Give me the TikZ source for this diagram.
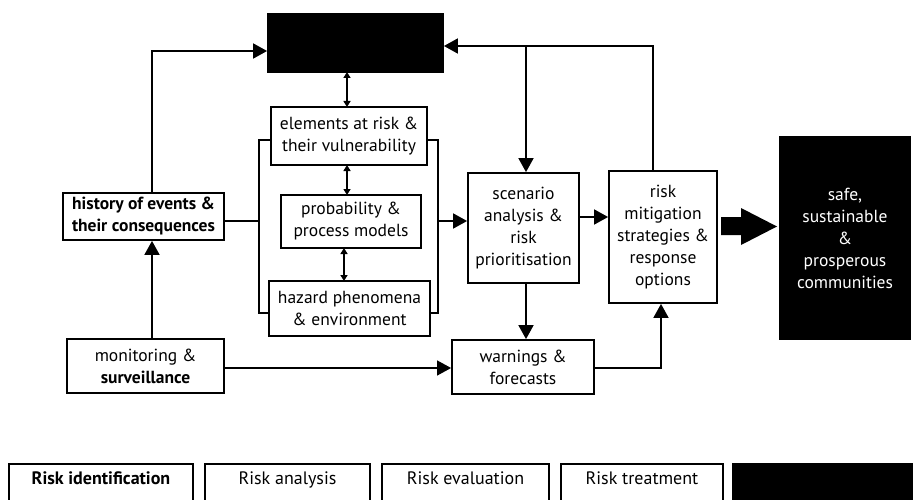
\documentclass[tikz,border=0pt]{standalone}
\usepackage{fontspec}
\setmainfont{PT Sans}
\usetikzlibrary{arrows.meta}
\begin{document}
\begin{tikzpicture}[x=1pt,y=-1pt,
  box/.style={draw, line width=1.8pt, align=center, inner sep=0pt,
    font=\fontsize{17.5}{22}\selectfont},
  darkbox/.style={draw, fill=black, line width=1.8pt, inner sep=0pt},
  legbox/.style={draw, line width=1.6pt, inner sep=0pt, anchor=north,
    text height=21pt, text depth=36pt, font=\fontsize{18}{20}\selectfont},
  conn/.style={line width=1.8pt},
  arr/.style={conn, -{Triangle[length=14pt,width=15pt]}},
  thinarr/.style={line width=1.2pt, -{Triangle[length=14pt,width=15pt]}},
  twoway/.style={line width=1.5pt,
    {Triangle[length=6pt,width=7pt]}-{Triangle[length=6pt,width=7pt]}}]
\useasboundingbox (0,0) rectangle (913,500);
\clip (0,0) rectangle (913,500);

% --- central knowledge block
\node[darkbox, minimum width=175pt, minimum height=58pt] (topbox) at (355.5,43) {};
\node[box, minimum width=156pt, minimum height=58pt] (elements) at (349,136)
  {elements at risk \&\\their vulnerability};
\node[box, minimum width=140pt, minimum height=53pt] (probability) at (351,221.5)
  {probability \&\\process models};
\node[box, minimum width=161pt, minimum height=55pt] (hazard) at (349.5,308.5)
  {hazard phenomena\\\& environment};

% --- left column
\node[box, minimum width=161pt, minimum height=47pt, font=\bfseries\fontsize{17.5}{22}\selectfont]
  (history) at (143.5,216.5) {history of events \&\\their consequences};
\node[box, minimum width=157pt, minimum height=54pt] (monitoring) at (145.5,366)
  {monitoring \&\\\textbf{surveillance}};

% --- right part
\node[box, minimum width=111pt, minimum height=110pt] (scenario) at (523.5,228)
  {scenario\\analysis \&\\risk\\prioritisation};
\node[box, minimum width=108pt, minimum height=132pt] (mitigation) at (663,237)
  {risk\\mitigation\\strategies \&\\response\\options};
\node[box, minimum width=142pt, minimum height=54pt] (warnings) at (523,367)
  {warnings \&\\forecasts};
\node[darkbox, minimum width=130pt, minimum height=202pt, text=white, align=center,
  font=\fontsize{17.5}{22}\selectfont] (safe) at (845,238)
  {safe,\\sustainable\\\&\\prosperous\\communities};

% --- bracket grouping the three model boxes
\coordinate (bl) at (259,221);
\coordinate (br) at (438,221);
\draw[conn] (elements.west |- 0,140) -- (259,140) -- (259,313) -- (hazard.west |- 0,313);
\draw[conn] (elements.east |- 0,140) -- (438,140) -- (438,313) -- (hazard.east |- 0,313);

% --- two-way links inside the block
\draw[twoway] (347,72) -- (347,107);
\draw[twoway] (347,165) -- (347,195);
\draw[twoway] (344,248) -- (344,281);

% --- feedback loops to the central block
\draw[arr] (history.north -| 152,0) |- (topbox.west |- 0,51);
\draw[arr] (mitigation.north -| 653,0) |- (topbox.east |- 0,46);
\draw[arr] (526,46) -- (scenario.north -| 526,0);

% --- main flow
\draw[conn] (history.east |- 0,221) -- (bl);
\draw[arr] (br) -- (scenario.west |- 0,221);
\draw[arr] (scenario.east |- 0,217) -- (mitigation.west |- 0,217);
\draw[arr] (scenario.south -| 526,0) -- (warnings.north -| 526,0);
\draw[arr] (monitoring.north -| 152,0) -- (history.south -| 152,0);
\draw[thinarr] (monitoring.east |- 0,368) -- (warnings.west |- 0,368);
\draw[arr] (warnings.east |- 0,368) -| (mitigation.south -| 661,0);

% --- broad arrow towards the outcome
\fill (721,217) -- (741,217) -- (741,208) -- (777,226.5) -- (741,245)
  -- (741,235) -- (721,235) -- cycle;

% --- process stages along the bottom
\node[legbox, minimum width=184pt, font=\bfseries\fontsize{18}{20}\selectfont]
  (stage1) at (101,463) {Risk identification};
\node[legbox, minimum width=165pt] (stage2) at (287.5,463) {Risk analysis};
\node[legbox, minimum width=167pt] (stage3) at (465.5,463) {Risk evaluation};
\node[legbox, minimum width=162pt] (stage4) at (642,463) {Risk treatment};
\node[legbox, fill=black, minimum width=185pt] (stage5) at (825.5,463) {};
\end{tikzpicture}
\end{document}
